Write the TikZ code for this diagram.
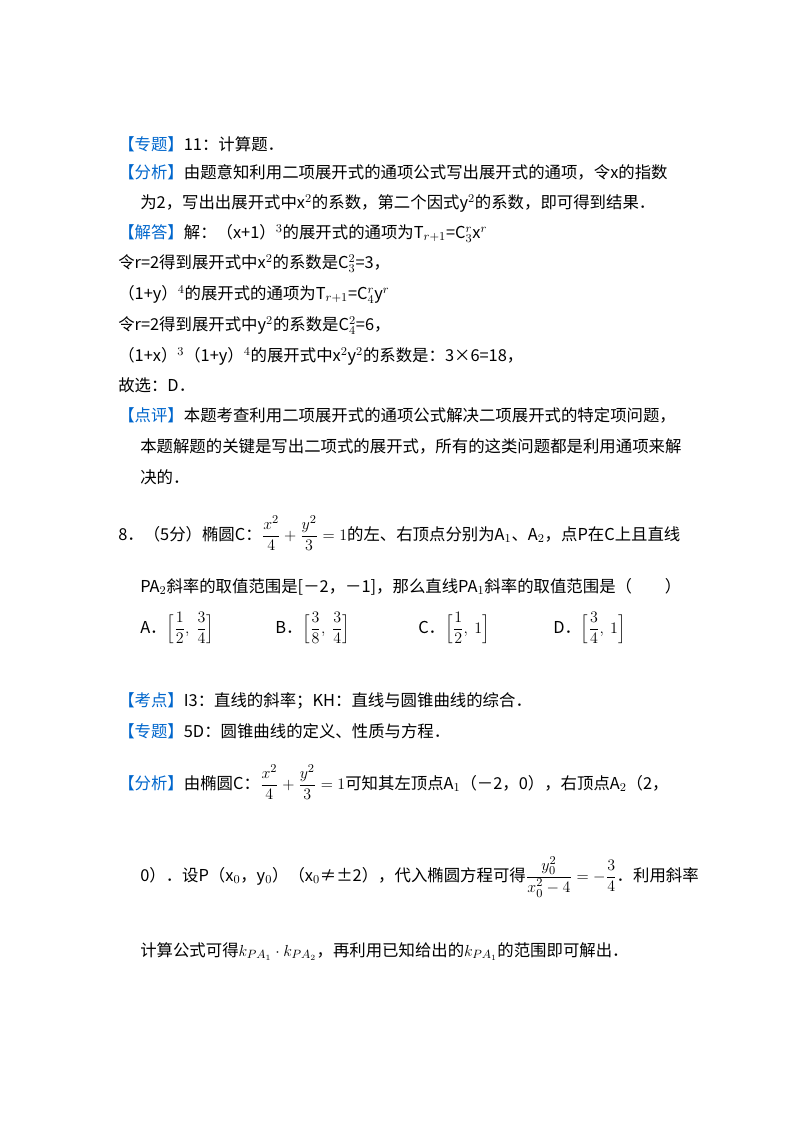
\documentclass[tikz,border=0pt]{standalone}
\usepackage{fontspec}
\setmainfont{Noto Sans CJK SC}
\usepackage{amsmath}
\definecolor{lb}{RGB}{0,102,204}
\begin{document}
\begin{tikzpicture}[x=0.75pt,y=-0.75pt,
  t/.style={anchor=base west,inner sep=0pt,font=\fontsize{12.3}{14}\selectfont}]
\useasboundingbox (0,0) rectangle (800,1133);
\node[t] (l1) at (118,150) {\textcolor{lb}{【专题】}11：计算题．};
\node[t] (l2) at (118,178) {\textcolor{lb}{【分析】}由题意知利用二项展开式的通项公式写出展开式的通项，令x的指数};
\node[t] (l3) at (140,208) {为2，写出出展开式中x$^2$的系数，第二个因式y$^2$的系数，即可得到结果．};
\node[t] (l4) at (118,238) {\textcolor{lb}{【解答】}解：（x+1）$^3$的展开式的通项为T$_{r+1}$=C$_3^r$x$^r$};
\node[t] (l5) at (118,268) {令r=2得到展开式中x$^2$的系数是C$_3^2$=3，};
\node[t] (l6) at (118,299) {（1+y）$^4$的展开式的通项为T$_{r+1}$=C$_4^r$y$^r$};
\node[t] (l7) at (118,330) {令r=2得到展开式中y$^2$的系数是C$_4^2$=6，};
\node[t] (l8) at (118,361) {（1+x）$^3$（1+y）$^4$的展开式中x$^2$y$^2$的系数是：3×6=18，};
\node[t] (l9) at (118,391) {故选：D．};
\node[t] (l10) at (118,421) {\textcolor{lb}{【点评】}本题考查利用二项展开式的通项公式解决二项展开式的特定项问题，};
\node[t] (l11) at (140,452) {本题解题的关键是写出二项式的展开式，所有的这类问题都是利用通项来解};
\node[t] (l12) at (140,483) {决的．};
\node[t] (q1) at (118,540) {8．（5分）椭圆C：$\dfrac{x^2}{4}+\dfrac{y^2}{3}=1$的左、右顶点分别为A$_1$、A$_2$，点P在C上且直线};
\node[t] (q2) at (140,592) {PA$_2$斜率的取值范围是[－2，－1]，那么直线PA$_1$斜率的取值范围是（\quad\quad）};
\node[t] (qa) at (140,633) {A．$\Big[\dfrac12,\ \dfrac34\Big]$};
\node[t] (qb) at (275,633) {B．$\Big[\dfrac38,\ \dfrac34\Big]$};
\node[t] (qc) at (418,633) {C．$\Big[\dfrac12,\ 1\Big]$};
\node[t] (qd) at (553,633) {D．$\Big[\dfrac34,\ 1\Big]$};
\node[t] (k1) at (118,706) {\textcolor{lb}{【考点】}I3：直线的斜率；KH：直线与圆锥曲线的综合．};
\node[t] (k2) at (118,737) {\textcolor{lb}{【专题】}5D：圆锥曲线的定义、性质与方程．};
\node[t] (k3) at (118,789) {\textcolor{lb}{【分析】}由椭圆C：$\dfrac{x^2}{4}+\dfrac{y^2}{3}=1$可知其左顶点A$_1$（－2，0），右顶点A$_2$（2，};
\node[t] (k4) at (140,881) {0）．设P（x$_0$，y$_0$）（x$_0$≠±2），代入椭圆方程可得$\dfrac{y_0^2}{x_0^2-4}=-\dfrac34$．利用斜率};
\node[t] (k5) at (140,956) {计算公式可得$k_{PA_1}\cdot k_{PA_2}$，再利用已知给出的$k_{PA_1}$的范围即可解出．};
\end{tikzpicture}
\end{document}
